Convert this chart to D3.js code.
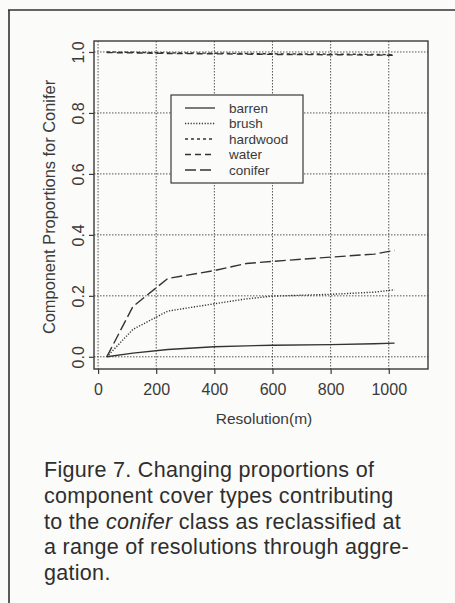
<!DOCTYPE html>
<html>
<head>
<meta charset="utf-8">
<script src="https://cdn.jsdelivr.net/npm/d3@7"></script>
<style>
  body { margin: 0; background: #fbfbf9; }
  svg { display: block; }
</style>
</head>
<body>
<div id="chart"></div>
<script>
// Resolutions (m) and component proportions
const resolutions = [30, 120, 240, 400, 510, 600, 800, 950, 1020];
const barren   = [0.0, 0.012, 0.024, 0.033, 0.036, 0.038, 0.040, 0.043, 0.045];
const brush    = [0.0, 0.090, 0.150, 0.174, 0.190, 0.199, 0.205, 0.212, 0.220];
const hardwood = [1.0, 0.999, 0.997, 0.996, 0.995, 0.994, 0.993, 0.992, 0.991];
const water    = [0.998, 0.997, 0.995, 0.994, 0.993, 0.992, 0.991, 0.990, 0.989];
const conifer  = [0.0, 0.165, 0.257, 0.283, 0.306, 0.313, 0.327, 0.337, 0.349];

const seriesNames = ["barren", "brush", "hardwood", "water", "conifer"];
const seriesValues = [barren, brush, hardwood, water, conifer];
const dashes = ["none", "1.2,1.6", "3,3", "6,4", "11,4"];

const xTicks = [0, 200, 400, 600, 800, 1000];
const yTicks = [0.0, 0.2, 0.4, 0.6, 0.8, 1.0];

const caption = [
  [{ t: "Figure 7. Changing proportions of" }],
  [{ t: "component cover types contributing" }],
  [{ t: "to the " }, { t: "conifer", i: true }, { t: " class as reclassified at" }],
  [{ t: "a range of resolutions through aggre-" }],
  [{ t: "gation." }]
];

const W = 455, H = 603;
const ink = "#3a3a3a";
const sans = "'Liberation Sans', Arial, sans-serif";
const svg = d3.select("#chart").append("svg").attr("width", W).attr("height", H);

// page frame
svg.append("line").attr("x1", 8).attr("x2", W).attr("y1", 10).attr("y2", 10)
  .attr("stroke", "#333").attr("stroke-width", 1.6);
svg.append("line").attr("x1", 9).attr("x2", 9).attr("y1", 10).attr("y2", H)
  .attr("stroke", "#333").attr("stroke-width", 1.6);

const plot = { left: 94, right: 428, top: 41, bottom: 369 };
const x = d3.scaleLinear().domain([-14, 1135]).range([plot.left, plot.right]);
const y = d3.scaleLinear().domain([-0.04, 1.036]).range([plot.bottom, plot.top]);

// grid
const grid = svg.append("g").attr("stroke", "#555").attr("stroke-width", 1)
  .attr("stroke-dasharray", "1.5,1.5");
grid.selectAll(".gx").data(xTicks).join("line")
  .attr("x1", d => x(d)).attr("x2", d => x(d))
  .attr("y1", plot.top).attr("y2", plot.bottom);
grid.selectAll(".gy").data(yTicks).join("line")
  .attr("y1", d => y(d)).attr("y2", d => y(d))
  .attr("x1", plot.left).attr("x2", plot.right);

// axes
const xAxis = svg.append("g").attr("transform", `translate(0,${plot.bottom})`)
  .call(d3.axisBottom(x).tickValues(xTicks).tickSize(5).tickPadding(10).tickFormat(d3.format("d")));
const yAxis = svg.append("g").attr("transform", `translate(${plot.left},0)`)
  .call(d3.axisLeft(y).tickValues(yTicks).tickSize(5).tickFormat(d3.format(".1f")));
[xAxis, yAxis].forEach(a => {
  a.select(".domain").remove();
  a.selectAll("line").attr("stroke", ink).attr("stroke-width", 1.2);
  a.selectAll("text").attr("fill", ink)
    .style("font-family", sans).style("font-size", "16px");
});
yAxis.selectAll(".tick text")
  .attr("x", null).attr("y", 0).attr("dy", null)
  .attr("text-anchor", "middle")
  .attr("transform", "translate(-10,0) rotate(-90)");

// box
svg.append("rect").attr("x", plot.left).attr("y", plot.top)
  .attr("width", plot.right - plot.left).attr("height", plot.bottom - plot.top)
  .attr("fill", "none").attr("stroke", ink).attr("stroke-width", 1.4);

// series
const line = d3.line().x((d, i) => x(resolutions[i])).y(d => y(d));
svg.append("g").selectAll("path").data(seriesValues).join("path")
  .attr("d", d => line(d))
  .attr("fill", "none").attr("stroke", "#333").attr("stroke-width", 1.4)
  .attr("stroke-dasharray", (d, i) => dashes[i]);

// legend
const lg = svg.append("g").attr("transform", "translate(171,95)");
lg.append("rect").attr("width", 132).attr("height", 88)
  .attr("fill", "#fbfbf9").attr("stroke", ink).attr("stroke-width", 1.2);
const rows = lg.selectAll("g").data(seriesNames).join("g")
  .attr("transform", (d, i) => `translate(0,${13 + i * 15.5})`);
rows.append("line").attr("x1", 14).attr("x2", 44)
  .attr("stroke", "#333").attr("stroke-width", 1.3)
  .attr("stroke-dasharray", (d, i) => dashes[i]);
rows.append("text").attr("x", 58).attr("dy", "0.35em").text(d => d)
  .attr("fill", ink).style("font-family", sans).style("font-size", "13.5px");

// axis titles
svg.append("text").attr("x", 264).attr("y", 424).attr("text-anchor", "middle")
  .attr("fill", ink).style("font-family", sans)
  .style("font-size", "15.5px").text("Resolution(m)");
svg.append("text").attr("transform", `translate(55,${(plot.top + plot.bottom) / 2 + 2}) rotate(-90)`)
  .attr("text-anchor", "middle").attr("fill", ink)
  .style("font-family", sans).style("font-size", "16.4px")
  .text("Component Proportions for Conifer");

// caption
const cap = svg.append("g").attr("fill", "#2e2e2e")
  .style("font-family", sans).style("font-size", "21.5px")
  .style("letter-spacing", "0.3px");
caption.forEach((parts, k) => {
  const t = cap.append("text").attr("x", 44).attr("y", 477 + k * 25.8);
  parts.forEach(p => t.append("tspan").text(p.t).style("font-style", p.i ? "italic" : null));
});
</script>
</body>
</html>
